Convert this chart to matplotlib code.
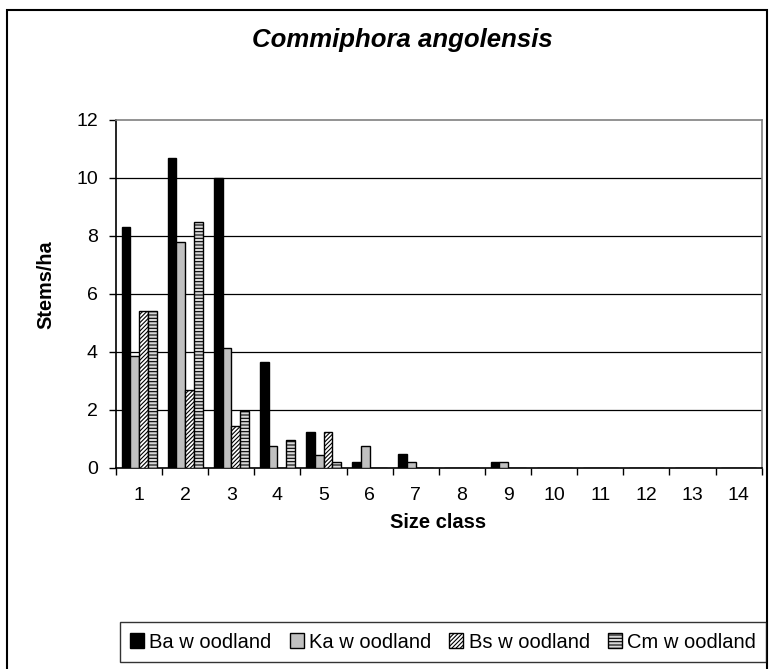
import matplotlib
matplotlib.use("Agg")
import matplotlib.pyplot as plt
import numpy as np
from matplotlib.patches import Rectangle

plt.rcParams['font.family'] = ['Liberation Sans', 'DejaVu Sans']
plt.rcParams['hatch.linewidth'] = 0.8

classes = [str(i) for i in range(1, 15)]
ba = [8.3, 10.7, 10.0, 3.65, 1.25, 0.2, 0.5, 0, 0.2, 0, 0, 0, 0, 0]
ka = [3.85, 7.8, 4.15, 0.75, 0.45, 0.75, 0.2, 0, 0.2, 0, 0, 0, 0, 0]
bs = [5.4, 2.7, 1.45, 0, 1.25, 0, 0, 0, 0, 0, 0, 0, 0, 0]
cm = [5.4, 8.5, 1.95, 0.95, 0.2, 0, 0, 0, 0, 0, 0, 0, 0, 0]
series_names = ["Ba w oodland", "Ka w oodland", "Bs w oodland", "Cm w oodland"]
yticks = [0, 2, 4, 6, 8, 10, 12]

fig = plt.figure(figsize=(7.7, 6.69), dpi=100)
ax = fig.add_axes([116/770, 1-468/669, (761.7-116)/770, (468-120)/669])

x = np.arange(1, len(classes) + 1)
w = 0.19
styles = [
    dict(facecolor='black', edgecolor='black', hatch=None),
    dict(facecolor='#c0c0c0', edgecolor='black', hatch=None),
    dict(facecolor='white', edgecolor='black', hatch='////////'),
    dict(facecolor='#d8d8d8', edgecolor='black', hatch='-----'),
]
data = [ba, ka, bs, cm]
handles = []
for k, (vals, st, name) in enumerate(zip(data, styles, series_names)):
    b = ax.bar(x + (k - 1.5) * w, vals, width=w, linewidth=1.0, label=name, zorder=3, **st)
    handles.append(b)

ax.set_xlim(0.5, 14.5)
ax.set_ylim(0, 12)
ax.set_yticks(yticks)
ax.set_yticklabels([str(v) for v in yticks], fontsize=14)
ax.set_xticks(x)
ax.set_xticklabels(classes, fontsize=14)
ax.set_xticks(np.arange(0.5, 15, 1), minor=True)
ax.tick_params(axis='x', which='major', length=0, pad=14)
ax.tick_params(axis='x', which='minor', length=5, direction='out', width=1)
ax.tick_params(axis='y', length=5, direction='out', width=1, pad=8)

for yv in yticks[1:-1]:
    ax.axhline(yv, color='black', linewidth=0.9, zorder=1)

ax.spines['left'].set_color('black')
ax.spines['bottom'].set_color('black')
ax.spines['top'].set_color('#808080')
ax.spines['right'].set_color('#808080')
for s in ax.spines.values():
    s.set_linewidth(1.2)

fig.text(46/770, 1-285/669, 'Stems/ha', fontsize=14.3, fontweight='bold',
         rotation=90, ha='center', va='center')
fig.text(438/770, 1-522/669, 'Size class', fontsize=14.5, fontweight='bold',
         ha='center', va='center')

fig.text(402/770, 1-40/669, 'Commiphora angolensis', fontsize=18.5, fontweight='bold',
         fontstyle='italic', ha='center', va='center')

leg = fig.legend(handles=handles, labels=series_names, loc='center', ncol=4,
                 bbox_to_anchor=(120/770, 1-663/669, 646/770, 42/669), mode='expand',
                 fontsize=14.5, frameon=True, fancybox=False, edgecolor='black',
                 handlelength=0.7, handleheight=0.7, handletextpad=0.25, columnspacing=0.4,
                 borderaxespad=0, borderpad=0.5)
leg.get_frame().set_linewidth(1.0)

fig.patches.append(Rectangle((7/770, -0.01), (767-7)/770, 1-10/669+0.01,
                             transform=fig.transFigure, fill=False, edgecolor='black',
                             linewidth=1.5))

fig.savefig('out.png', dpi=100)
